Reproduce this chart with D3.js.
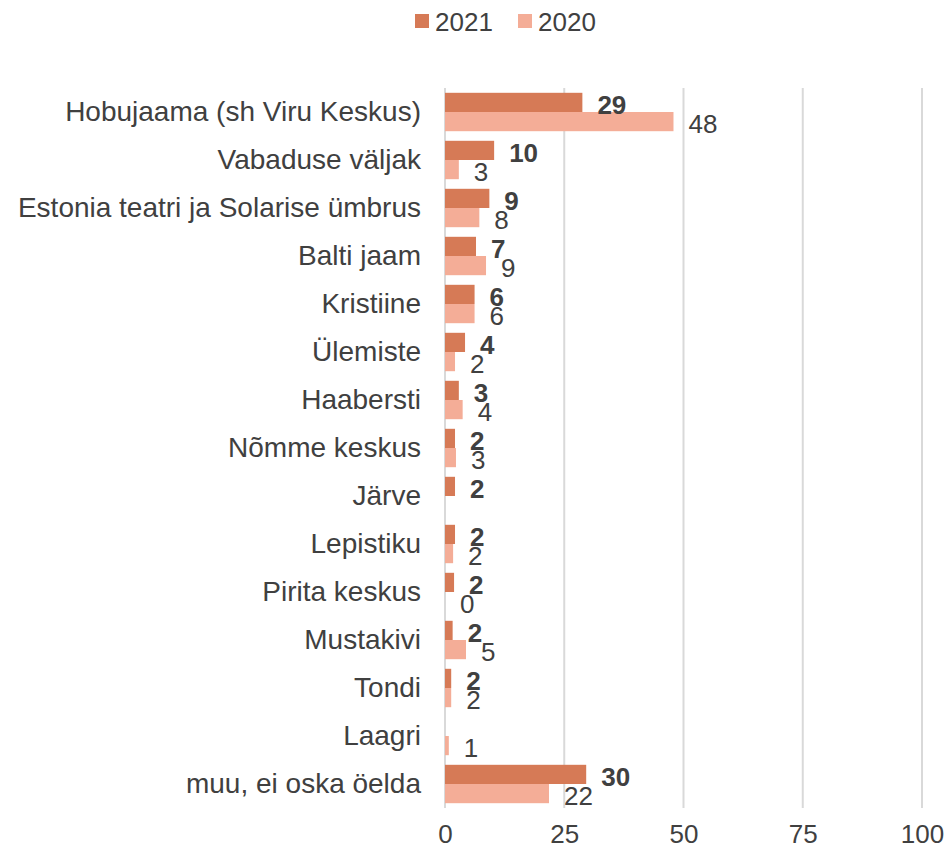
<!DOCTYPE html>
<html>
<head>
<meta charset="utf-8">
<script src="https://cdn.jsdelivr.net/npm/d3@7"></script>
<style>
  body { margin: 0; background: #fff; }
  text { font-family: "Liberation Sans", Arial, sans-serif; fill: #404040; }
</style>
</head>
<body>
<div id="chart"></div>
<script>
var categories = ["Hobujaama (sh Viru Keskus)", "Vabaduse väljak", "Estonia teatri ja Solarise ümbrus",
  "Balti jaam", "Kristiine", "Ülemiste", "Haabersti", "Nõmme keskus", "Järve", "Lepistiku",
  "Pirita keskus", "Mustakivi", "Tondi", "Laagri", "muu, ei oska öelda"];
// bar lengths
var values2021 = [28.8, 10.3, 9.3, 6.5, 6.2, 4.2, 2.9, 2.1, 2.1, 2.1, 1.9, 1.6, 1.3, null, 29.6];
var values2020 = [47.9, 2.9, 7.2, 8.6, 6.2, 2.1, 3.7, 2.3, null, 1.7, 0, 4.4, 1.3, 0.8, 21.8];
// printed labels
var labels2021 = [29, 10, 9, 7, 6, 4, 3, 2, 2, 2, 2, 2, 2, null, 30];
var labels2020 = [48, 3, 8, 9, 6, 2, 4, 3, null, 2, 0, 5, 2, 1, 22];
var series = ["2021", "2020"];
var xTicks = [0, 25, 50, 75, 100];

var width = 948, height = 853;
var margin = {top: 88, left: 445, right: 26, bottom: 45};

var svg = d3.select("#chart").append("svg")
  .attr("width", width).attr("height", height);

var x = d3.scaleLinear().domain([0, 100]).range([margin.left, width - margin.right]);
var y = d3.scaleBand().domain(categories).range([margin.top, height - margin.bottom])
  .paddingInner(0.2).paddingOuter(0.1);
var ys = d3.scaleBand().domain(series).range([0, y.bandwidth()]);
var color = d3.scaleOrdinal().domain(series).range(["#d67a56", "#f4ad97"]);

// gridlines
svg.append("g").selectAll("line")
  .data(xTicks).enter().append("line")
  .attr("x1", function(d) { return x(d); })
  .attr("x2", function(d) { return x(d); })
  .attr("y1", margin.top)
  .attr("y2", height - margin.bottom)
  .attr("stroke", "#d9d9d9")
  .attr("stroke-width", 2);

var rows = categories.map(function(c, i) {
  return [
    {cat: c, s: "2021", v: values2021[i], l: labels2021[i]},
    {cat: c, s: "2020", v: values2020[i], l: labels2020[i]}
  ];
});
var flat = [].concat.apply([], rows);

svg.append("g").selectAll("rect")
  .data(flat.filter(function(d) { return d.v; }))
  .enter().append("rect")
  .attr("x", x(0))
  .attr("y", function(d) { return y(d.cat) + ys(d.s); })
  .attr("width", function(d) { return x(d.v) - x(0); })
  .attr("height", ys.bandwidth())
  .attr("fill", function(d) { return color(d.s); });

// value labels
svg.append("g").selectAll("text")
  .data(flat.filter(function(d) { return d.l !== null; }))
  .enter().append("text")
  .attr("x", function(d) { return x(d.v || 0) + 15; })
  .attr("y", function(d) { return y(d.cat) + ys(d.s) + ys.bandwidth() / 2 + 2; })
  .attr("dy", "0.35em")
  .attr("font-size", 26)
  .attr("font-weight", function(d) { return d.s == "2021" ? "bold" : "normal"; })
  .text(function(d) { return d.l; });

// category axis
var yAxis = d3.axisLeft(y).tickSize(0).tickPadding(24);
svg.append("g")
  .attr("transform", "translate(" + x(0) + ",0)")
  .call(yAxis)
  .call(function(g) { g.select(".domain").remove(); })
  .selectAll("text")
  .attr("font-size", 28)
  .attr("fill", null);

// x axis
var xAxis = d3.axisBottom(x).tickValues(xTicks).tickSize(0).tickPadding(17);
svg.append("g")
  .attr("transform", "translate(0," + (height - margin.bottom) + ")")
  .call(xAxis)
  .call(function(g) { g.select(".domain").remove(); })
  .selectAll("text")
  .attr("font-size", 26)
  .attr("fill", null);

// legend
var legend = svg.append("g").selectAll("g")
  .data(series).enter().append("g")
  .attr("transform", function(d, i) { return "translate(" + (415 + i * 103) + ",14)"; });
legend.append("rect")
  .attr("width", 14).attr("height", 14)
  .attr("fill", function(d) { return color(d); });
legend.append("text")
  .attr("x", 20).attr("y", 8).attr("dy", "0.35em")
  .attr("font-size", 26)
  .text(function(d) { return d; });
</script>
</body>
</html>
